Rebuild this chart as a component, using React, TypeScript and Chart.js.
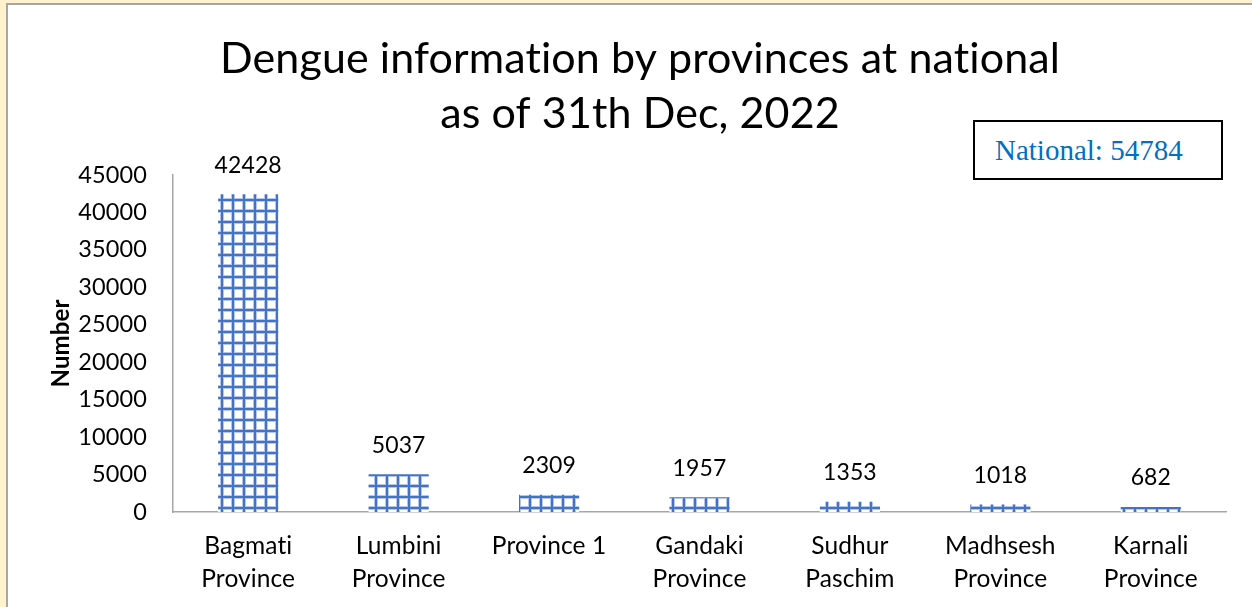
import React, { useEffect, useRef } from "react";
import { Chart, registerables } from "chart.js";

Chart.register(...registerables);

const categories: string[][] = [
  ["Bagmati", "Province"],
  ["Lumbini", "Province"],
  ["Province 1"],
  ["Gandaki", "Province"],
  ["Sudhur", "Paschim"],
  ["Madhsesh", "Province"],
  ["Karnali", "Province"],
];
const cases: number[] = [42428, 5037, 2309, 1957, 1353, 1018, 682];
const yTickValues: number[] = [0, 5000, 10000, 15000, 20000, 25000, 30000, 35000, 40000, 45000];
const titleLines: string[] = ["Dengue information by provinces at national", "as of 31th Dec, 2022"];
const yAxisTitle = "Number";
const nationalLabel = "National: 54784";

const FONT = "Lato, 'Open Sans', sans-serif";

function makePattern(): CanvasPattern | string {
  const c = document.createElement("canvas");
  c.width = 11;
  c.height = 11;
  const g = c.getContext("2d");
  if (!g) return "#4472C4";
  g.fillStyle = "#ffffff";
  g.fillRect(0, 0, 11, 11);
  g.fillStyle = "#B4C6EA";
  g.fillRect(0, 0, 4, 11);
  g.fillRect(0, 0, 11, 4);
  g.fillStyle = "#4472C4";
  g.fillRect(1, 0, 2, 11);
  g.fillRect(0, 1, 11, 2);
  return g.createPattern(c, "repeat") || "#4472C4";
}

const noLigatures = {
  id: "noLigatures",
  beforeDraw(chart: any) {
    try {
      (chart.ctx as any).letterSpacing = "0.1px";
    } catch (e) {
      /* ignore */
    }
  },
};

const valueLabels = {
  id: "valueLabels",
  afterDatasetsDraw(chart: any) {
    const ctx = chart.ctx;
    const meta = chart.getDatasetMeta(0);
    ctx.save();
    ctx.font = `23px ${FONT}`;
    ctx.fillStyle = "#000";
    ctx.textAlign = "center";
    ctx.textBaseline = "middle";
    meta.data.forEach((bar: any, i: number) => {
      ctx.fillText(String(cases[i]), bar.x, bar.y - 29);
    });
    ctx.restore();
  },
};

export default function App() {
  const ref = useRef<HTMLCanvasElement | null>(null);

  useEffect(() => {
    document.body.style.margin = "0";
    if (!ref.current) return;
    const chart = new Chart(ref.current, {
      type: "bar",
      data: {
        labels: categories,
        datasets: [
          {
            data: cases,
            backgroundColor: makePattern() as any,
            borderWidth: 0,
            barPercentage: 0.4,
            categoryPercentage: 1,
          },
        ],
      },
      options: {
        animation: false,
        responsive: false,
        maintainAspectRatio: false,
        layout: { padding: { left: 54, right: 26, top: 0, bottom: 0 } },
        plugins: {
          legend: { display: false },
          tooltip: { enabled: false },
          title: {
            display: true,
            text: titleLines,
            color: "#000",
            font: { family: FONT, size: 43, weight: "normal", lineHeight: 55 / 43 },
            padding: { top: 32, bottom: 33 },
          },
        },
        scales: {
          x: {
            grid: { display: false, drawTicks: false },
            border: { display: true, color: "#A6A6A6", width: 1.5 },
            ticks: {
              color: "#000",
              font: { family: FONT, size: 24.5, lineHeight: 33 / 24.5 },
              padding: 18,
              maxRotation: 0,
              autoSkip: false,
            },
            afterFit(scale: any) {
              scale.height = 95;
            },
          },
          y: {
            min: 0,
            max: 45000,
            afterBuildTicks(scale: any) {
              scale.ticks = yTickValues.map((v) => ({ value: v }));
            },
            grid: { display: false, drawTicks: false },
            border: { display: true, color: "#A6A6A6", width: 1.5 },
            ticks: {
              color: "#000",
              font: { family: FONT, size: 23.5 },
              padding: 26,
              callback: (v: any) => String(v),
            },
            title: {
              display: true,
              text: yAxisTitle,
              color: "#000",
              font: { family: FONT, size: 24, weight: "bold" },
              padding: { top: -7, bottom: 0 },
            },
            afterFit(scale: any) {
              scale.width = 119;
            },
          },
        },
      },
      plugins: [noLigatures, valueLabels],
    });
    return () => chart.destroy();
  }, []);

  return (
    <div
      style={{
        position: "fixed",
        left: 0,
        top: 0,
        width: 1252,
        height: 607,
        background: "#FFF2CC",
        overflow: "hidden",
      }}
    >
      <div
        style={{
          position: "absolute",
          left: 6,
          top: 3,
          width: 1252,
          height: 620,
          background: "#ffffff",
          borderLeft: "2px solid #A6A6A6",
          borderTop: "2px solid #A6A6A6",
          boxSizing: "border-box",
        }}
      />
      <canvas
        ref={ref}
        width={1252}
        height={607}
        style={{ position: "absolute", left: 0, top: 0, width: 1252, height: 607 }}
      />
      <div
        style={{
          position: "absolute",
          left: 973,
          top: 120,
          width: 250,
          height: 60,
          border: "2px solid #000",
          boxSizing: "border-box",
          background: "#fff",
          color: "#0070C0",
          fontFamily: "'Liberation Serif', 'Times New Roman', serif",
          fontSize: 29,
          lineHeight: "56px",
          paddingLeft: 20,
          whiteSpace: "nowrap",
        }}
      >
        {nationalLabel}
      </div>
    </div>
  );
}
